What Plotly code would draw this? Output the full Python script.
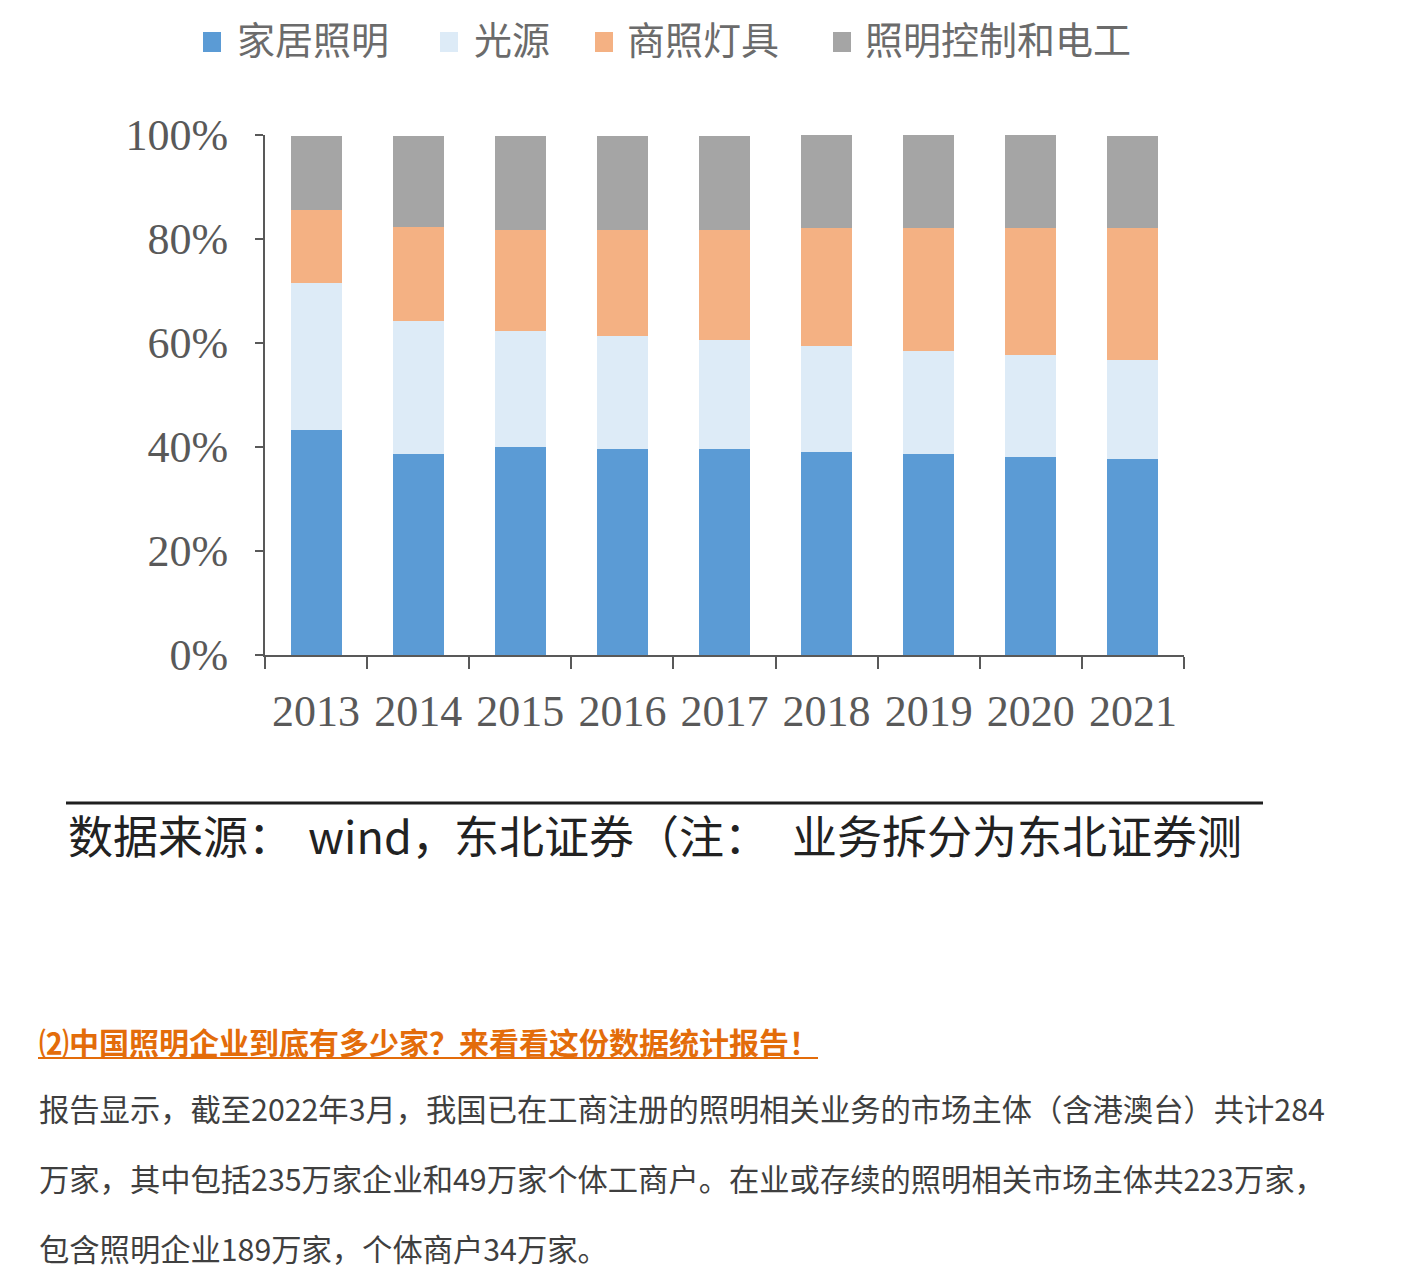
import plotly.graph_objects as go

W, H = 1415, 1279

years = ['2013', '2014', '2015', '2016', '2017', '2018', '2019', '2020', '2021']
home_lighting = [43.3, 38.7, 40.0, 39.6, 39.6, 39.1, 38.7, 38.1, 37.7]
light_source = [28.2, 25.6, 22.3, 21.8, 21.0, 20.4, 19.8, 19.6, 19.1]
commercial_fixtures = [14.1, 18.1, 19.4, 20.3, 21.1, 22.7, 23.7, 24.5, 25.4]
control_electrical = [14.2, 17.4, 18.1, 18.1, 18.1, 17.8, 17.8, 17.8, 17.6]

series_names = ['家居照明', '光源', '商照灯具', '照明控制和电工']
series_values = [home_lighting, light_source, commercial_fixtures, control_electrical]
colors = ['#5B9BD5', '#DDEBF7', '#F4B183', '#A5A5A5']
y_ticks = [0, 20, 40, 60, 80, 100]

def px(x):
    return x / W

def py(y):
    return 1 - y / H

fig = go.Figure()
for name, vals, col in zip(series_names, series_values, colors):
    fig.add_trace(go.Bar(x=years, y=vals, name=name, marker=dict(color=col, line=dict(width=0)),
                         width=0.5, showlegend=False))

axis_col = '#595959'
serif = 'Liberation Serif, DejaVu Serif, serif'
fig.update_layout(
    template='none',
    width=W, height=H,
    margin=dict(l=0, r=0, t=0, b=0, pad=0, autoexpand=False),
    paper_bgcolor='white', plot_bgcolor='white',
    barmode='stack',
    showlegend=False,
    xaxis=dict(domain=[px(265), px(1184)], type='category', range=[-0.5, 8.5], automargin=False,
               showline=True, linecolor=axis_col, linewidth=2,
               ticks='outside', tickson='boundaries', ticklen=12, tickwidth=2, tickcolor=axis_col,
               tickfont=dict(family=serif, size=44, color=axis_col), showgrid=False,
               ticklabelstandoff=16),
    yaxis=dict(domain=[py(655), py(135)], range=[0, 100], automargin=False,
               showline=True, linecolor=axis_col, linewidth=2,
               ticks='outside', ticklen=8, tickwidth=2, tickcolor=axis_col,
               tickvals=y_ticks, ticktext=[f'{v}%' for v in y_ticks],
               tickfont=dict(family=serif, size=44, color=axis_col), showgrid=False,
               zeroline=False, ticklabelstandoff=18),
)

shapes = []
annotations = []

# manual legend
legend_items = [(203, 235), (440, 472), (595, 625), (833, 863)]
for (sx, tx), name, col in zip(legend_items, series_names, colors):
    shapes.append(dict(type='rect', xref='paper', yref='paper',
                       x0=px(sx), x1=px(sx + 18), y0=py(52), y1=py(32),
                       fillcolor=col, line=dict(width=0)))
    annotations.append(dict(xref='paper', yref='paper', x=px(tx), y=py(38), text=name,
                            xanchor='left', yanchor='middle', showarrow=False,
                            font=dict(family='Noto Sans CJK SC', size=38, color='#6b6b6b')))

# source line
shapes.append(dict(type='line', xref='paper', yref='paper', x0=px(66), x1=px(1263),
                   y0=py(803), y1=py(803), line=dict(color='#1f1f1f', width=3)))
src_parts = [(66, '数据来源：'), (306, 'wind，'), (452, '东北证券（注：'), (790, '业务拆分为东北证券测')]
for x0, t in src_parts:
    annotations.append(dict(xref='paper', yref='paper', x=px(x0), y=py(834), text=t,
                            xanchor='left', yanchor='middle', showarrow=False,
                            font=dict(family='Noto Sans CJK SC', size=45, color='#222222')))

# article heading
annotations.append(dict(xref='paper', yref='paper', x=px(37), y=py(1041),
                        text='<b>⑵中国照明企业到底有多少家？来看看这份数据统计报告！</b>',
                        xanchor='left', yanchor='middle', showarrow=False,
                        font=dict(family='Noto Sans CJK SC', size=30, color='#E36C0A')))
shapes.append(dict(type='line', xref='paper', yref='paper', x0=px(38), x1=px(818),
                   y0=py(1058), y1=py(1058), line=dict(color='#E36C0A', width=2)))

body_lines = [
    '报告显示，截至2022年3月，我国已在工商注册的照明相关业务的市场主体（含港澳台）共计284',
    '万家，其中包括235万家企业和49万家个体工商户。在业或存续的照明相关市场主体共223万家，',
    '包含照明企业189万家，个体商户34万家。',
]
for i, line in enumerate(body_lines):
    annotations.append(dict(xref='paper', yref='paper', x=px(37), y=py(1108 + 70 * i), text=line,
                            xanchor='left', yanchor='middle', showarrow=False,
                            font=dict(family='Noto Sans CJK SC', size=30.3, color='#3f3f3f')))

fig.update_layout(shapes=shapes, annotations=annotations)
fig.write_html('out.html')
